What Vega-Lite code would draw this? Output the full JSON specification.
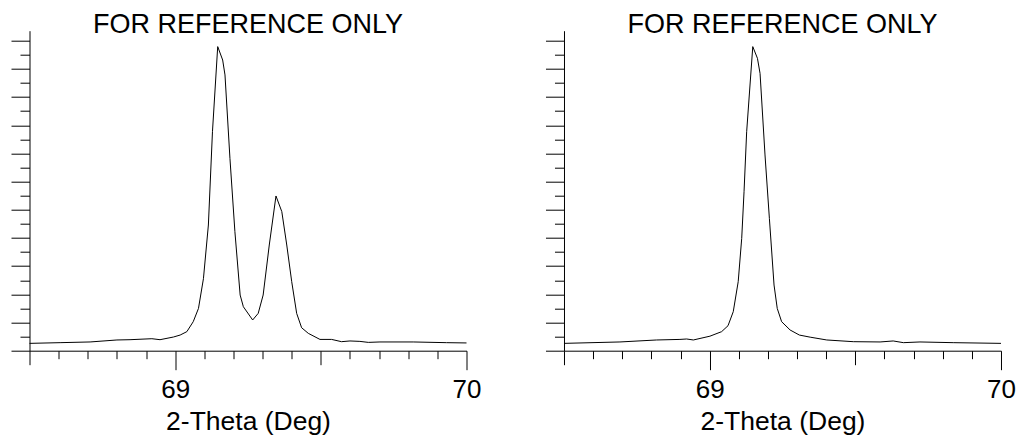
{
  "$schema": "https://vega.github.io/schema/vega-lite/v6.json",
  "padding": {"left": 10.5, "top": 10.7, "right": 0, "bottom": 0},
  "spacing": 63.5,
  "datasets": {
    "raw": [
      {"two_theta": 68.500, "counts": 52},
      {"two_theta": 68.605, "counts": 57},
      {"two_theta": 68.708, "counts": 62},
      {"two_theta": 68.800, "counts": 76},
      {"two_theta": 68.845, "counts": 78},
      {"two_theta": 68.920, "counts": 85},
      {"two_theta": 68.948, "counts": 78},
      {"two_theta": 68.994, "counts": 97},
      {"two_theta": 69.017, "counts": 111},
      {"two_theta": 69.040, "counts": 135},
      {"two_theta": 69.062, "counts": 206},
      {"two_theta": 69.080, "counts": 300},
      {"two_theta": 69.097, "counts": 511},
      {"two_theta": 69.114, "counts": 892},
      {"two_theta": 69.128, "counts": 1554},
      {"two_theta": 69.146, "counts": 2158},
      {"two_theta": 69.163, "counts": 2063},
      {"two_theta": 69.171, "counts": 1957},
      {"two_theta": 69.188, "counts": 1365},
      {"two_theta": 69.205, "counts": 845},
      {"two_theta": 69.223, "counts": 395},
      {"two_theta": 69.234, "counts": 312},
      {"two_theta": 69.266, "counts": 218},
      {"two_theta": 69.285, "counts": 265},
      {"two_theta": 69.302, "counts": 395},
      {"two_theta": 69.323, "counts": 750},
      {"two_theta": 69.346, "counts": 1098},
      {"two_theta": 69.366, "counts": 987},
      {"two_theta": 69.383, "counts": 750},
      {"two_theta": 69.400, "counts": 490},
      {"two_theta": 69.417, "counts": 265},
      {"two_theta": 69.434, "counts": 163},
      {"two_theta": 69.457, "counts": 123},
      {"two_theta": 69.497, "counts": 80},
      {"two_theta": 69.537, "counts": 80},
      {"two_theta": 69.571, "counts": 64},
      {"two_theta": 69.600, "counts": 69},
      {"two_theta": 69.634, "counts": 66},
      {"two_theta": 69.663, "counts": 59},
      {"two_theta": 69.703, "counts": 62},
      {"two_theta": 69.817, "counts": 62},
      {"two_theta": 69.931, "counts": 57},
      {"two_theta": 70.000, "counts": 55}
    ],
    "stripped": [
      {"two_theta": 68.500, "counts": 52},
      {"two_theta": 68.692, "counts": 62},
      {"two_theta": 68.818, "counts": 76},
      {"two_theta": 68.898, "counts": 80},
      {"two_theta": 68.921, "counts": 83},
      {"two_theta": 68.944, "counts": 76},
      {"two_theta": 69.001, "counts": 103},
      {"two_theta": 69.041, "counts": 135},
      {"two_theta": 69.063, "counts": 177},
      {"two_theta": 69.081, "counts": 277},
      {"two_theta": 69.098, "counts": 490},
      {"two_theta": 69.110, "counts": 797},
      {"two_theta": 69.118, "counts": 1128},
      {"two_theta": 69.127, "counts": 1554},
      {"two_theta": 69.148, "counts": 2158},
      {"two_theta": 69.164, "counts": 2075},
      {"two_theta": 69.173, "counts": 1968},
      {"two_theta": 69.190, "counts": 1389},
      {"two_theta": 69.205, "counts": 939},
      {"two_theta": 69.221, "counts": 466},
      {"two_theta": 69.232, "counts": 300},
      {"two_theta": 69.247, "counts": 206},
      {"two_theta": 69.276, "counts": 147},
      {"two_theta": 69.308, "counts": 111},
      {"two_theta": 69.345, "counts": 96},
      {"two_theta": 69.402, "counts": 76},
      {"two_theta": 69.493, "counts": 64},
      {"two_theta": 69.585, "counts": 62},
      {"two_theta": 69.630, "counts": 69},
      {"two_theta": 69.665, "counts": 57},
      {"two_theta": 69.722, "counts": 62},
      {"two_theta": 69.836, "counts": 57},
      {"two_theta": 70.000, "counts": 52}
    ]
  },
  "config": {
    "view": {"stroke": null},
    "font": "Liberation Sans",
    "axis": {
      "grid": false,
      "domainColor": "black",
      "domainWidth": 1,
      "tickColor": "black",
      "tickWidth": 1,
      "labelColor": "black",
      "labelFont": "Liberation Sans",
      "labelFontSize": 26,
      "titleColor": "black",
      "titleFont": "Liberation Sans",
      "titleFontSize": 26.5,
      "titleFontWeight": "normal"
    },
    "title": {
      "font": "Liberation Sans",
      "fontSize": 27,
      "fontWeight": "normal",
      "color": "black",
      "anchor": "middle",
      "baseline": "alphabetic",
      "offset": -8.4
    }
  },
  "hconcat": [
    {
      "title": "FOR REFERENCE ONLY",
      "width": 437,
      "height": 320,
      "data": {"name": "raw"},
      "mark": {"type": "line", "color": "black", "strokeWidth": 1},
      "encoding": {
        "x": {
          "field": "two_theta", "type": "quantitative",
          "scale": {"domain": [68.5, 70], "nice": false, "zero": false},
          "axis": {
            "title": "2-Theta (Deg)",
            "values": [68.5, 68.6, 68.7, 68.8, 68.9, 69, 69.1, 69.2, 69.3, 69.4, 69.5, 69.6, 69.7, 69.8, 69.9, 70],
            "labelExpr": "abs(datum.value - round(datum.value)) < 0.001 ? format(datum.value, 'd') : ''",
            "labelOverlap": false,
            "labelFlush": false,
            "labelPadding": 7,
            "titlePadding": 6,
            "tickSize": 19,
            "tickDash": {
              "condition": [
                {"test": "abs(datum.value - round(datum.value)) < 0.001", "value": [100, 1]},
                {"test": "abs(datum.value * 2 - round(datum.value * 2)) < 0.001", "value": [14, 40]}
              ],
              "value": [8, 40]
            }
          }
        },
        "y": {
          "field": "counts", "type": "quantitative",
          "scale": {"domain": [0, 2271], "nice": false, "zero": true},
          "axis": {
            "title": null,
            "labels": false,
            "values": [0, 100, 200, 300, 400, 500, 600, 700, 800, 900, 1000, 1100, 1200, 1300, 1400, 1500, 1600, 1700, 1800, 1900, 2000, 2100, 2200],
            "tickSize": 18.5,
            "tickDash": {
              "condition": {"test": "datum.value % 200 === 0", "value": [100, 1]},
              "value": [9.5, 40]
            }
          }
        }
      }
    },
    {
      "title": "FOR REFERENCE ONLY",
      "width": 437,
      "height": 320,
      "data": {"name": "stripped"},
      "mark": {"type": "line", "color": "black", "strokeWidth": 1},
      "encoding": {
        "x": {
          "field": "two_theta", "type": "quantitative",
          "scale": {"domain": [68.5, 70], "nice": false, "zero": false},
          "axis": {
            "title": "2-Theta (Deg)",
            "values": [68.5, 68.6, 68.7, 68.8, 68.9, 69, 69.1, 69.2, 69.3, 69.4, 69.5, 69.6, 69.7, 69.8, 69.9, 70],
            "labelExpr": "abs(datum.value - round(datum.value)) < 0.001 ? format(datum.value, 'd') : ''",
            "labelOverlap": false,
            "labelFlush": false,
            "labelPadding": 7,
            "titlePadding": 6,
            "tickSize": 19,
            "tickDash": {
              "condition": [
                {"test": "abs(datum.value - round(datum.value)) < 0.001", "value": [100, 1]},
                {"test": "abs(datum.value * 2 - round(datum.value * 2)) < 0.001", "value": [14, 40]}
              ],
              "value": [8, 40]
            }
          }
        },
        "y": {
          "field": "counts", "type": "quantitative",
          "scale": {"domain": [0, 2271], "nice": false, "zero": true},
          "axis": {
            "title": null,
            "labels": false,
            "values": [0, 100, 200, 300, 400, 500, 600, 700, 800, 900, 1000, 1100, 1200, 1300, 1400, 1500, 1600, 1700, 1800, 1900, 2000, 2100, 2200],
            "tickSize": 18.5,
            "tickDash": {
              "condition": {"test": "datum.value % 200 === 0", "value": [100, 1]},
              "value": [9.5, 40]
            }
          }
        }
      }
    }
  ]
}
